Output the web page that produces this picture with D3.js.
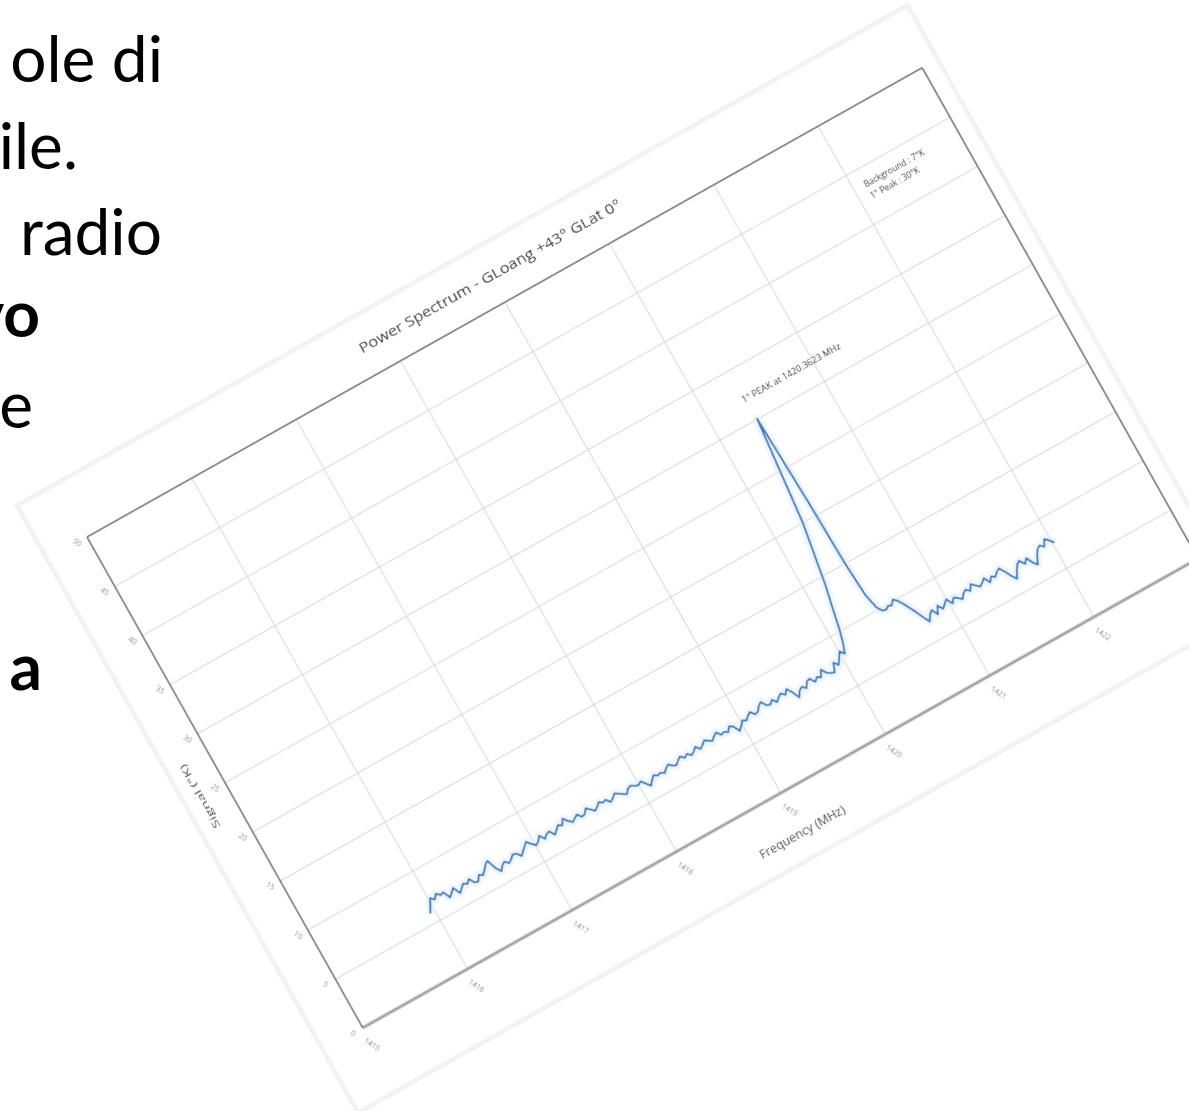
<!DOCTYPE html>
<html>
<head>
<meta charset="utf-8">
<script src="https://cdn.jsdelivr.net/npm/d3@7"></script>
<style>
  html, body { margin: 0; padding: 0; background: #fff; }
  svg { display: block; }
</style>
</head>
<body>
<svg id="page" width="1189" height="1111"></svg>
<script>
// ---- texts ----
const chartTitle = "Power Spectrum - GLoang +43° GLat 0°";
const xAxisTitle = "Frequency (MHz)";
const yAxisTitle = "Signal (°K)";
const peakLabel = "1° PEAK at 1420.3623 MHz";
const infoLines = ["Background : 7°K", "1° Peak : 30°K"];
const slideWords = ["ole di", "ile.", "radio", "vo", "e", "a"];
const slideBold = [false, false, false, true, false, true];

// ---- axes ----
const xDomain = [1415, 1423];
const yDomain = [0, 50];
const xTicks = [1415, 1416, 1417, 1418, 1419, 1420, 1421, 1422];
const yTicks = [0, 5, 10, 15, 20, 25, 30, 35, 40, 45, 50];

// ---- spectrum: continuum below the line (channels every 0.03 MHz from 1415.96) ----
const lowStart = 1415.96, lowStep = 0.03;
const sigLow = [
  5.9,6.5,7.1,6.8,7.2,6.9,7.0,6.3,6.6,6.9,
  6.2,6.5,6.8,6.6,6.9,6.4,6.3,6.8,6.6,6.9,
  7.3,7.5,6.6,6.1,6.5,6.7,6.4,6.6,6.9,6.8,
  6.4,6.7,7.0,7.3,6.9,6.6,6.8,7.2,6.7,7.0,
  7.1,6.6,6.9,7.2,7.0,7.5,7.1,6.8,7.0,7.2,
  6.8,6.9,7.3,7.0,6.7,6.9,7.2,7.0,7.1,6.7,
  6.9,7.2,7.0,6.8,6.6,7.0,7.1,6.9,6.8,7.0,
  6.6,6.2,6.6,6.9,6.7,6.8,6.6,6.9,7.1,6.8,
  6.7,7.0,7.2,6.9,7.1,6.8,7.0,7.3,6.9,7.1,
  7.4,7.2,7.0,7.3,7.5,7.1,7.2,7.0,7.4,7.2,
  6.6,6.9,7.3,7.1,7.4,7.6,7.2,7.3,7.7,7.9,
  7.4,7.3,7.6,7.2,7.5,7.7,7.4,7.8,7.3,6.6,
  7.1,7.3,7.0,7.5,7.6,7.1,7.4,7.2,7.8,7.3,
  7.1,7.0,7.8,7.4,7.9,8.4,8.0];

// ---- spectrum: the hydrogen line ----
const freqPeak = [1420.07,1420.10,1420.14,1420.18,1420.27,1420.3623,1420.395,1420.41,1420.43,1420.46,1420.49];
const sigPeak  = [8.9,10.1,12.2,14.2,20.0,30.0,21.0,15.0,11.6,10.2,9.7];

// ---- spectrum: continuum above the line (channels every 0.03 MHz from 1420.52) ----
const highStart = 1420.52, highStep = 0.03;
const sigHigh = [
  9.6,9.8,9.7,10.1,9.8,9.3,8.7,8.1,7.4,6.8,
  7.3,7.6,7.0,7.7,7.2,7.5,7.8,7.2,7.6,7.4,
  7.1,7.5,7.7,7.4,7.9,7.6,7.3,7.5,7.8,7.2,
  7.6,7.4,7.7,7.9,7.4,6.8,6.3,6.9,7.4,7.6,
  7.1,7.5,6.9,6.5,7.2,7.7,7.9,7.6,8.2,7.9,
  7.5];

const spectrum = []
  .concat(sigLow.map((v, i) => [lowStart + i * lowStep, v]))
  .concat(freqPeak.map((f, i) => [f, sigPeak[i]]))
  .concat(sigHigh.map((v, i) => [highStart + i * highStep, v]));

// ---- page ----
const svg = d3.select("#page");
const defs = svg.append("defs");
defs.append("filter").attr("id", "soft")
  .attr("x", "-5%").attr("y", "-5%").attr("width", "110%").attr("height", "110%")
  .append("feGaussianBlur").attr("stdDeviation", 0.55);

svg.append("rect").attr("width", 1189).attr("height", 1111).attr("fill", "#fff");

// slide text behind the chart (cropped by the page edge)
const slideRight = [163, 78, 162, 40, 33, 42];
const slideBase = [82, 169, 255, 337, 428, 690];
svg.selectAll("text.slide").data(slideWords).join("text")
  .attr("class", "slide")
  .attr("x", (d, i) => slideRight[i])
  .attr("y", (d, i) => slideBase[i])
  .attr("text-anchor", "end")
  .attr("font-family", "Lato, 'Open Sans', sans-serif")
  .attr("font-size", 64)
  .attr("font-weight", (d, i) => slideBold[i] ? 700 : 400)
  .attr("fill", "#000")
  .text(d => d);

// chart, tilted on the slide
const W = 958, H = 563;
const chart = svg.append("g")
  .attr("transform", "translate(87,537) rotate(-29.33)");
const g = chart.append("g").attr("filter", "url(#soft)");

const x = d3.scaleLinear().domain(xDomain).range([0, W]);
const y = d3.scaleLinear().domain(yDomain).range([H, 0]);

// card
g.append("rect")
  .attr("x", -45).attr("y", -61).attr("width", W + 62).attr("height", H + 132)
  .attr("fill", "#fff").attr("stroke", "#f4f4f4").attr("stroke-width", 4);
g.append("rect")
  .attr("x", -47).attr("y", -63).attr("width", W + 66).attr("height", H + 136)
  .attr("fill", "none").attr("stroke", "#dcdcdc").attr("stroke-width", 0.6);

// grid
g.append("g")
  .call(d3.axisLeft(y).tickValues(yTicks.slice(1, -1)).tickSize(-W).tickFormat(""))
  .call(s => s.select(".domain").remove())
  .call(s => s.selectAll("line").attr("stroke", "#d6d6d6").attr("stroke-width", 1));
g.append("g")
  .attr("transform", `translate(0,${H})`)
  .call(d3.axisBottom(x).tickValues(xTicks.slice(1)).tickSize(-H).tickFormat(""))
  .call(s => s.select(".domain").remove())
  .call(s => s.selectAll("line").attr("stroke", "#d6d6d6").attr("stroke-width", 1));

// frame
const [x0, x1] = x.range();
const [y0, y1] = y.range();
g.append("line").attr("x1", x0).attr("x2", x1).attr("y1", y1).attr("y2", y1)
  .attr("stroke", "#8c8c8c").attr("stroke-width", 2);
g.append("line").attr("x1", x1).attr("x2", x1).attr("y1", y1).attr("y2", y0)
  .attr("stroke", "#8c8c8c").attr("stroke-width", 2);
g.append("line").attr("x1", x0).attr("x2", x1).attr("y1", y0).attr("y2", y0)
  .attr("stroke", "#a3a3a3").attr("stroke-width", 3);
g.append("line").attr("x1", x0).attr("x2", x0).attr("y1", y1).attr("y2", y0)
  .attr("stroke", "#444").attr("stroke-width", 1.2);

// tick labels
g.selectAll("text.xt").data(xTicks).join("text")
  .attr("class", "xt")
  .attr("transform", d => `translate(${x(d)},${H + 19}) rotate(62)`)
  .attr("text-anchor", "middle").attr("dy", "0.35em")
  .attr("font-family", "'Open Sans', sans-serif").attr("font-size", 7.5)
  .attr("fill", "#8a8a8a")
  .text(d => d);
g.selectAll("text.yt").data(yTicks).join("text")
  .attr("class", "yt")
  .attr("transform", d => `translate(-11,${y(d)}) rotate(62)`)
  .attr("text-anchor", "middle").attr("dy", "0.35em")
  .attr("font-family", "'Open Sans', sans-serif").attr("font-size", 7.5)
  .attr("fill", "#8a8a8a")
  .text(d => d);

// titles
g.append("text")
  .attr("x", W / 2).attr("y", -25)
  .attr("text-anchor", "middle")
  .attr("font-family", "'Open Sans', sans-serif").attr("font-size", 14.5)
  .attr("textLength", 298).attr("lengthAdjust", "spacingAndGlyphs")
  .attr("fill", "#2a2a2a")
  .text(chartTitle);
g.append("text")
  .attr("x", W / 2).attr("y", H + 49)
  .attr("text-anchor", "middle")
  .attr("font-family", "'Open Sans', sans-serif").attr("font-size", 12)
  .attr("textLength", 96).attr("lengthAdjust", "spacingAndGlyphs")
  .attr("fill", "#444")
  .text(xAxisTitle);
g.append("text")
  .attr("transform", `translate(-28,${H / 2}) rotate(-90)`)
  .attr("text-anchor", "middle").attr("dy", "0.35em")
  .attr("font-family", "'Open Sans', sans-serif").attr("font-size", 9.5)
  .attr("textLength", 72).attr("lengthAdjust", "spacingAndGlyphs")
  .attr("fill", "#444")
  .text(yAxisTitle);

// spectrum
const line = d3.line().x(d => x(d[0])).y(d => y(d[1]));
g.append("path").datum(spectrum)
  .attr("d", line).attr("fill", "none")
  .attr("stroke", "#e6f0fa").attr("stroke-width", 9)
  .attr("stroke-linejoin", "round").attr("opacity", 0.6);
g.append("path").datum(spectrum)
  .attr("d", line).attr("fill", "none")
  .attr("stroke", "#3b7cc4").attr("stroke-width", 1.9)
  .attr("stroke-linejoin", "round");

// annotations
g.append("text")
  .attr("x", x(1420.33)).attr("y", y(31.8))
  .attr("font-family", "'Open Sans', sans-serif").attr("font-size", 8.5)
  .attr("textLength", 112).attr("lengthAdjust", "spacingAndGlyphs")
  .attr("fill", "#333")
  .text(peakLabel);
g.selectAll("text.info").data(infoLines).join("text")
  .attr("class", "info")
  .attr("x", x(1422.1))
  .attr("y", (d, i) => y(43.2 - i * 1.2))
  .attr("font-family", "'Open Sans', sans-serif").attr("font-size", 8.5)
  .attr("fill", "#333")
  .text(d => d);
</script>
</body>
</html>
